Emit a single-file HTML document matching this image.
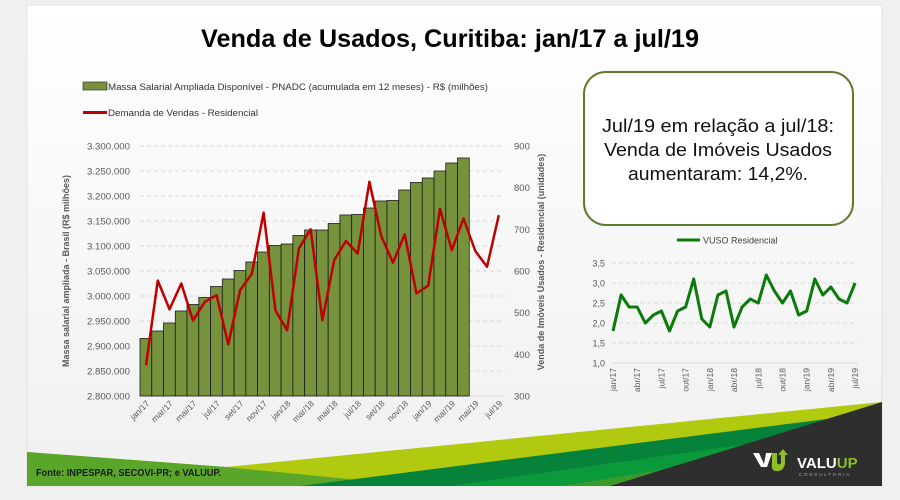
<!DOCTYPE html>
<html><head><meta charset="utf-8"><style>
body{margin:0;background:#f0f0f0;width:900px;height:495px;overflow:hidden;font-family:"Liberation Sans",sans-serif}
</style></head><body>
<svg id="s" width="900" height="495" xmlns="http://www.w3.org/2000/svg" font-family="Liberation Sans, sans-serif">
<defs>
<linearGradient id="bg" x1="0" y1="0" x2="0" y2="1"><stop offset="0" stop-color="#ffffff"/><stop offset="1" stop-color="#f0f0f0"/></linearGradient>
</defs>
<rect x="27" y="5" width="855" height="481" fill="url(#bg)" stroke="#e2e2e2"/>
<text x="450" y="47" text-anchor="middle" font-size="25" font-weight="bold" fill="#000" textLength="498" lengthAdjust="spacingAndGlyphs">Venda de Usados, Curitiba: jan/17 a jul/19</text>
<rect x="83" y="82" width="24" height="8" fill="#76923c" stroke="#333" stroke-width="0.7"/>
<text x="108" y="90" font-size="9" fill="#333" textLength="380" lengthAdjust="spacingAndGlyphs">Massa Salarial Ampliada Disponível - PNADC (acumulada em 12 meses) - R$ (milhões)</text>
<rect x="83" y="111" width="24" height="3" fill="#c00000"/>
<text x="108" y="116" font-size="9" fill="#333" textLength="150" lengthAdjust="spacingAndGlyphs">Demanda de Vendas - Residencial</text>
<rect x="584" y="72" width="269" height="153" rx="22" fill="#fff" stroke="#5f7a2a" stroke-width="2"/>
<text x="718" y="132" text-anchor="middle" font-size="18" fill="#111" textLength="232" lengthAdjust="spacingAndGlyphs">Jul/19 em relação a jul/18:</text>
<text x="718" y="156" text-anchor="middle" font-size="18" fill="#111" textLength="228" lengthAdjust="spacingAndGlyphs">Venda de Imóveis Usados</text>
<text x="718" y="180" text-anchor="middle" font-size="18" fill="#111" textLength="180" lengthAdjust="spacingAndGlyphs">aumentaram: 14,2%.</text>
<g id="g"></g>
<polygon points="27,452 226,467 882,402 882,486 27,486" fill="#b1c90e"/>
<polygon points="27,452 226,467 420,486 27,486" fill="#5aa62a"/>
<polygon points="300,486 882,412 882,430 650,486" fill="#06823a"/>
<polygon points="450,486 882,425 882,486" fill="#0a9a3c"/>
<polygon points="560,486 882,435 882,486" fill="#3c9a2a"/>
<polygon points="882,402 882,486 610,486" fill="#2e2e2e"/>
<text x="36" y="476" font-size="10" font-weight="bold" fill="#1a1a1a" textLength="185" lengthAdjust="spacingAndGlyphs">Fonte: INPESPAR, SECOVI-PR; e VALUUP.</text>
<path d="M753,453 l6,0 l5,11 l2,-11 l6,0 l-5,14 l-6,0z" fill="#fff"/>
<path d="M772,453 l5,0 l0,10 q2,3 4,0 l0,-8 l-3,0 l5,-6 l5,6 l-3,0 l0,9 q-2,8 -9,7 q-5,0 -4,-8z" fill="#8cbf2a"/>
<text x="797" y="468" font-size="15" font-weight="bold" fill="#fff">VALU<tspan fill="#8cbf2a">UP</tspan></text>
<text x="799" y="476" font-size="4.5" fill="#aaa" letter-spacing="1.8">CONSULTORIA</text>
</svg>
<script>
var g=document.getElementById('g'),h='';
var L=[2800000,2850000,2900000,2950000,3000000,3050000,3100000,3150000,3200000,3250000,3300000];
function yl(v){return 396-(v-2800000)/50000*25}
function yr(v){return 396-(v-300)/600*250}
for(var i=0;i<L.length;i++){var y=yl(L[i]);
 if(i>0)h+='<line x1="140" y1="'+y+'" x2="505" y2="'+y+'" stroke="#d9d9d9" stroke-dasharray="4,3"/>';
 h+='<text x="130" y="'+(y+3.5)+'" text-anchor="end" font-size="9.5" fill="#595959" textLength="43" lengthAdjust="spacingAndGlyphs">'+L[i].toLocaleString('de-DE')+'</text>';
 var r=300+i*100; if(r<=900 && i<7) h+='<text x="514" y="'+(yr(r)+3.5)+'" font-size="9.5" fill="#595959">'+r+'</text>';}
h+='<line x1="140" y1="396" x2="505" y2="396" stroke="#d9d9d9"/>';
var B=[2915000,2930000,2946000,2970000,2983000,2997000,3019000,3034000,3051000,3068000,3088000,3101000,3104000,3121000,3132000,3132000,3145000,3162000,3163000,3176000,3190000,3191000,3212000,3227000,3236000,3250000,3266000,3276000];
var cw=11.76;
for(i=0;i<B.length;i++){var y=yl(B[i]);h+='<rect x="'+(140+i*cw)+'" y="'+y+'" width="'+cw+'" height="'+(396-y)+'" fill="#76923c" stroke="#1a1a1a" stroke-width="0.8"/>';}
var D=[374,577,508,570,481,526,542,424,554,593,740,506,458,654,700,482,626,672,642,814,684,620,688,546,565,749,650,726,648,610,734];
var p=[];for(i=0;i<D.length;i++)p.push((146+i*cw).toFixed(1)+','+yr(D[i]).toFixed(1));
h+='<polyline points="'+p.join(' ')+'" fill="none" stroke="#c00000" stroke-width="2.5" stroke-linejoin="round"/>';
var M=['jan','mar','mai','jul','set','nov'],yrs=['17','18','19'];
for(i=0;i<31;i+=2){var x=146+i*cw;var lab=M[(i%12)/2]+'/'+yrs[Math.floor(i/12)];
 h+='<text transform="translate('+(x+4)+',404) rotate(-45)" text-anchor="end" font-size="8.5" fill="#595959">'+lab+'</text>';}
h+='<text transform="translate(69,271) rotate(-90)" text-anchor="middle" font-size="9" font-weight="bold" fill="#595959">Massa salarial ampliada - Brasil (R$ milhões)</text>';
h+='<text transform="translate(544,262) rotate(-90)" text-anchor="middle" font-size="9" font-weight="bold" fill="#595959">Venda de Imóveis Usados - Residencial (unidades)</text>';
h+='<line x1="677" y1="240" x2="700" y2="240" stroke="#0a7a0a" stroke-width="3"/>';
h+='<text x="703" y="243.5" font-size="9" fill="#404040">VUSO Residencial</text>';
function yv(v){return 363-(v-1)/2.5*100}
var T=['1,0','1,5','2,0','2,5','3,0','3,5'];
for(i=0;i<6;i++){var y=yv(1+i*0.5);
 if(i>0)h+='<line x1="612" y1="'+y+'" x2="858" y2="'+y+'" stroke="#d9d9d9" stroke-dasharray="4,3"/>';
 h+='<text x="605" y="'+(y+3.5)+'" text-anchor="end" font-size="9" fill="#595959">'+T[i]+'</text>';}
h+='<line x1="612" y1="363" x2="858" y2="363" stroke="#d9d9d9"/>';
var V=[1.8,2.7,2.4,2.4,2.0,2.2,2.3,1.8,2.3,2.4,3.1,2.1,1.9,2.7,2.8,1.9,2.4,2.6,2.5,3.2,2.8,2.5,2.8,2.2,2.3,3.1,2.7,2.9,2.6,2.5,3.0];
p=[];for(i=0;i<V.length;i++)p.push((613+i*8.07).toFixed(1)+','+yv(V[i]).toFixed(1));
h+='<polyline points="'+p.join(' ')+'" fill="none" stroke="#0a7a0a" stroke-width="3" stroke-linejoin="round"/>';
var Q=['jan','abr','jul','out'];
for(i=0;i<31;i+=3){var x=613+i*8.07;var lab=Q[(i%12)/3]+'/'+yrs[Math.floor(i/12)];
 h+='<text transform="translate('+(x+3)+',368) rotate(-90)" text-anchor="end" font-size="8.5" fill="#595959">'+lab+'</text>';}
g.innerHTML=h;
</script>
</body></html>
